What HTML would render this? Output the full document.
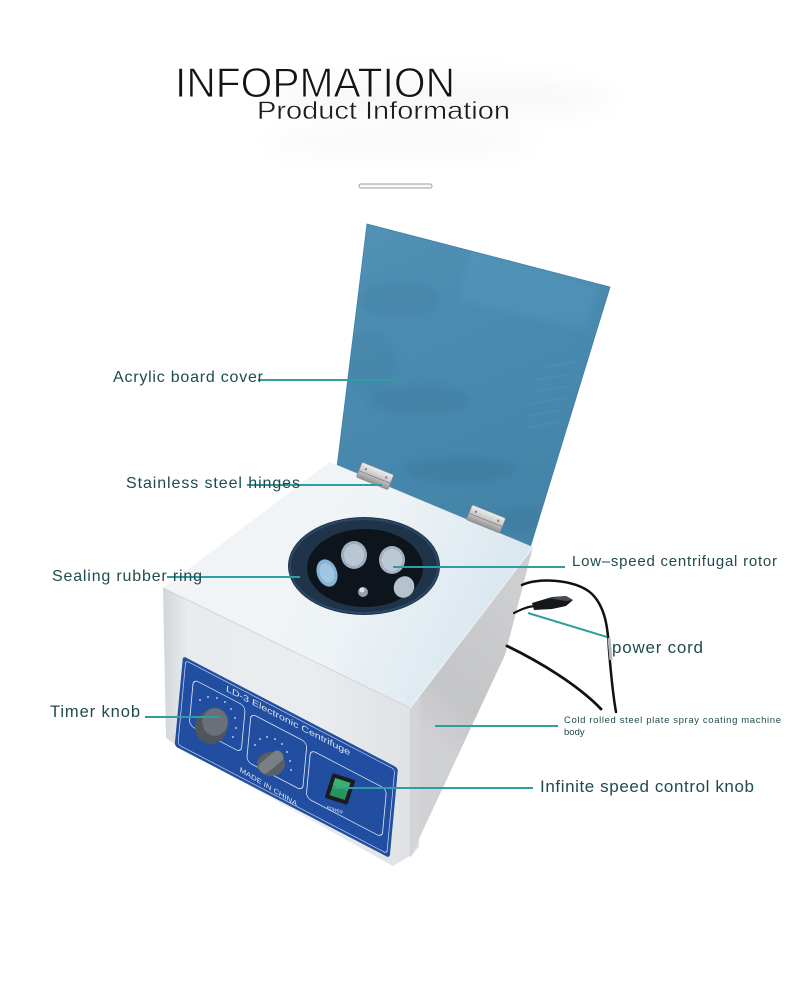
<!DOCTYPE html>
<html><head><meta charset="utf-8"><style>
html,body{margin:0;padding:0;background:#fff;}
body{width:790px;height:995px;overflow:hidden;position:relative;}
svg{position:absolute;left:0;top:0;}
</style></head><body>
<svg width="790" height="995" viewBox="0 0 790 995" xmlns="http://www.w3.org/2000/svg">
<defs>
 <filter id="b10" x="-50%" y="-50%" width="200%" height="200%"><feGaussianBlur stdDeviation="10"/></filter>
 <filter id="b4" x="-50%" y="-50%" width="200%" height="200%"><feGaussianBlur stdDeviation="4"/></filter>
 <filter id="b1"><feGaussianBlur stdDeviation="0.8"/></filter>
 <linearGradient id="lidg" x1="0" y1="0" x2="0.35" y2="1">
   <stop offset="0" stop-color="#5191b5"/>
   <stop offset="0.5" stop-color="#4a8ab0"/>
   <stop offset="1" stop-color="#4484a9"/>
 </linearGradient>
 <linearGradient id="topg" x1="0" y1="0" x2="1" y2="0.3">
   <stop offset="0" stop-color="#f3f5f7"/>
   <stop offset="0.6" stop-color="#eef3f6"/>
   <stop offset="1" stop-color="#dae7ef"/>
 </linearGradient>
 <linearGradient id="frontg" x1="163" y1="0" x2="410" y2="0" gradientUnits="userSpaceOnUse">
   <stop offset="0" stop-color="#d3d6d9"/>
   <stop offset="0.1" stop-color="#e9ecef"/>
   <stop offset="0.6" stop-color="#eaedf0"/>
   <stop offset="1" stop-color="#dfe2e5"/>
 </linearGradient>
 <linearGradient id="rightg" x1="410" y1="720" x2="520" y2="600" gradientUnits="userSpaceOnUse">
   <stop offset="0" stop-color="#d0d1d3"/>
   <stop offset="0.3" stop-color="#c4c5c7"/>
   <stop offset="1" stop-color="#cdced0"/>
 </linearGradient>
 <linearGradient id="hing" x1="0" y1="0" x2="0" y2="1">
   <stop offset="0" stop-color="#eeeeee"/>
   <stop offset="0.5" stop-color="#c9c9c9"/>
   <stop offset="1" stop-color="#8f8f8f"/>
 </linearGradient>
 <clipPath id="lidclip"><polygon points="367,224 610,287 530,548 337,467"/></clipPath>
</defs>

<!-- faint title shadow -->
<ellipse cx="440" cy="98" rx="170" ry="22" fill="#ececec" opacity="0.35" filter="url(#b10)"/>
<ellipse cx="400" cy="142" rx="130" ry="14" fill="#f0f0f0" opacity="0.4" filter="url(#b10)"/>

<!-- Title -->
<text x="175" y="97" font-family="Liberation Sans, sans-serif" font-size="42" fill="#141414" stroke="#ffffff" stroke-width="0.9" textLength="280" lengthAdjust="spacingAndGlyphs">INFOPMATION</text>
<text x="257" y="119" font-family="Liberation Sans, sans-serif" font-size="25" fill="#1c1c1c" stroke="#ffffff" stroke-width="0.4" textLength="253" lengthAdjust="spacingAndGlyphs">Product Information</text>
<rect x="359" y="184" width="73" height="4" rx="2" fill="#fafafa" stroke="#9c9c9c" stroke-width="1"/>

<!-- Lid -->
<polygon points="367,224 610,287 530,548 337,467" fill="url(#lidg)" stroke="#3f80a5" stroke-width="0.8"/>
<g clip-path="url(#lidclip)">
  <polygon points="470,250 600,285 585,330 460,300" fill="#5a9cc0" opacity="0.35" filter="url(#b4)"/>
  <ellipse cx="420" cy="400" rx="50" ry="14" fill="#3b7699" opacity="0.35" filter="url(#b4)"/>
  <ellipse cx="460" cy="470" rx="55" ry="12" fill="#3a7597" opacity="0.4" filter="url(#b4)"/>
  <ellipse cx="400" cy="300" rx="40" ry="18" fill="#3f7ca0" opacity="0.3" filter="url(#b4)"/>
  <ellipse cx="520" cy="520" rx="30" ry="10" fill="#3a7597" opacity="0.35" filter="url(#b4)"/>
  <ellipse cx="370" cy="360" rx="25" ry="30" fill="#3f7ca0" opacity="0.25" filter="url(#b4)"/>
  <g stroke="#6aa6c7" stroke-width="2" opacity="0.2" filter="url(#b1)">
    <line x1="540" y1="368" x2="575" y2="362"/>
    <line x1="535" y1="380" x2="572" y2="374"/>
    <line x1="532" y1="392" x2="570" y2="386"/>
    <line x1="530" y1="404" x2="566" y2="398"/>
    <line x1="528" y1="416" x2="562" y2="410"/>
    <line x1="526" y1="428" x2="558" y2="422"/>
  </g>
</g>

<!-- Right face -->
<polygon points="410,708 533,547 505,655 410,858" fill="url(#rightg)"/>
<polygon points="410,708 420,695 419,846 410,858" fill="#d4d5d7" opacity="0.8"/>

<!-- Front face -->
<polygon points="163,588 410,708 410,856 393,866 176,745 166,738" fill="url(#frontg)"/>

<!-- Top face -->
<polygon points="330,462 533,547 410,708 163,588" fill="url(#topg)"/>
<polyline points="163,588 410,708" fill="none" stroke="#d2d6da" stroke-width="1"/>
<polyline points="410,708 533,547" fill="none" stroke="#e9eef2" stroke-width="1.5"/>

<!-- Hinges -->
<g transform="translate(375,476) rotate(22)">
  <rect x="-17" y="-8" width="34" height="16" rx="1.5" fill="url(#hing)" stroke="#8a8a8a" stroke-width="0.6"/>
  <line x1="-17" y1="1" x2="17" y2="1" stroke="#7d7d7d" stroke-width="0.8"/>
  <circle cx="-11" cy="-3" r="1.2" fill="#888"/><circle cx="11" cy="-3" r="1.2" fill="#888"/>
</g>
<g transform="translate(486,519) rotate(22)">
  <rect x="-18" y="-8" width="36" height="16" rx="1.5" fill="url(#hing)" stroke="#8a8a8a" stroke-width="0.6"/>
  <line x1="-18" y1="1" x2="18" y2="1" stroke="#7d7d7d" stroke-width="0.8"/>
  <circle cx="-12" cy="-3" r="1.2" fill="#888"/><circle cx="12" cy="-3" r="1.2" fill="#888"/>
</g>

<!-- Rotor -->
<ellipse cx="364" cy="566" rx="76" ry="49" fill="#1f3349"/>
<ellipse cx="364" cy="566" rx="74" ry="47" fill="none" stroke="#2b4766" stroke-width="2"/>
<ellipse cx="365" cy="568" rx="58" ry="39" fill="#0d141b"/>
<ellipse cx="354" cy="555" rx="13" ry="14" fill="#9eb0bf"/>
<ellipse cx="354" cy="555" rx="10" ry="11" fill="#b9c7d2"/>
<ellipse cx="392" cy="560" rx="13" ry="14" fill="#a3b3c1"/>
<ellipse cx="392" cy="560" rx="10" ry="11" fill="#bccad5"/>
<ellipse cx="327" cy="573" rx="10" ry="14" transform="rotate(-20 327 573)" fill="#86b3d6"/>
<ellipse cx="327" cy="573" rx="7" ry="10" transform="rotate(-20 327 573)" fill="#a2c6e2"/>
<ellipse cx="404" cy="587" rx="10" ry="11" transform="rotate(30 404 587)" fill="#b6c3cd"/>
<circle cx="363" cy="592" r="5" fill="#9a9fa4"/>
<circle cx="362" cy="590" r="2.5" fill="#e0e3e6"/>

<!-- Blue panel -->
<g transform="matrix(1,0.521,-0.093,1,183,656)">
  <rect x="0" y="0" width="215" height="90" rx="3" fill="#214ea0"/>
  <rect x="3" y="3" width="209" height="84" rx="3" fill="none" stroke="#c9d6ee" stroke-width="0.7"/>
  <text x="44" y="12" font-family="Liberation Sans, sans-serif" font-size="8.5" fill="#dbe4f4" textLength="124" lengthAdjust="spacingAndGlyphs">LD-3 Electronic Centrifuge</text>
  <rect x="12" y="17" width="52" height="46" rx="5" fill="none" stroke="#dfe7f5" stroke-width="0.8"/>
  <rect x="70" y="21" width="56" height="48" rx="5" fill="none" stroke="#dfe7f5" stroke-width="0.8"/>
  <rect x="130" y="26" width="76" height="48" rx="5" fill="none" stroke="#dfe7f5" stroke-width="0.8"/>
  <text x="64" y="82" font-family="Liberation Sans, sans-serif" font-size="7" fill="#dbe4f4" textLength="58" lengthAdjust="spacingAndGlyphs" transform="rotate(5 64 82)">MADE IN CHINA</text>
</g>

<!-- Tick marks -->
<g fill="#e3eaf6">
  <circle cx="200" cy="700" r="0.9"/><circle cx="208" cy="697" r="0.9"/><circle cx="217" cy="698" r="0.9"/>
  <circle cx="225" cy="702" r="0.9"/><circle cx="231" cy="709" r="0.9"/><circle cx="235" cy="718" r="0.9"/>
  <circle cx="236" cy="728" r="0.9"/><circle cx="233" cy="737" r="0.9"/>
  <circle cx="255" cy="745" r="0.9"/><circle cx="260" cy="739" r="0.9"/><circle cx="267" cy="737" r="0.9"/>
  <circle cx="275" cy="739" r="0.9"/><circle cx="282" cy="744" r="0.9"/><circle cx="287" cy="752" r="0.9"/>
  <circle cx="290" cy="761" r="0.9"/><circle cx="291" cy="770" r="0.9"/>
</g>
<!-- Timer knob -->
<ellipse cx="211" cy="727" rx="16" ry="17" fill="#50555b"/>
<ellipse cx="215" cy="722" rx="13" ry="14" fill="#6a7077"/>
<ellipse cx="215" cy="722" rx="13" ry="14" fill="none" stroke="#575c63" stroke-width="1.2" stroke-dasharray="1.2 1.6"/>
<!-- Speed knob -->
<ellipse cx="271" cy="764" rx="14" ry="12" fill="#5a5f65"/>
<rect x="257" y="756" width="28" height="12" rx="5" transform="rotate(-40 271 762)" fill="#7a7f85"/>
<!-- Power switch -->
<g transform="rotate(18 340 789)">
  <rect x="328" y="776" width="24" height="26" rx="2" fill="#1a1d20"/>
  <rect x="332" y="780" width="16" height="18" fill="#27955a"/>
  <rect x="332" y="780" width="16" height="8" fill="#38b06e"/>
  <text x="333" y="812" font-family="Liberation Sans, sans-serif" font-size="4.5" fill="#dbe4f4">POWER</text>
</g>

<!-- Cords -->
<g fill="none" stroke="#111" stroke-linecap="round">
  <path d="M522 585 C 535 578, 575 578, 592 594 C 606 608, 608 630, 609 650 C 611 675, 613 695, 616 712" stroke-width="2.5"/>
  <path d="M507 646 C 540 662, 578 685, 601 709" stroke-width="2.8"/>
  <path d="M514 613 C 520 610, 526 607, 534 606" stroke-width="2.2"/>
</g>
<path d="M609 638 L 611 660" stroke="#b5b8bb" stroke-width="3"/>
<polygon points="532,603 552,597 566,596 573,600 566,606 552,609 534,610" fill="#15181b"/>
<polygon points="548,598 566,596 573,600 566,601" fill="#4a4e52"/>

<!-- Connector lines -->
<g stroke="#2e9ea3" stroke-width="2" fill="none">
  <line x1="258" y1="380" x2="397" y2="380"/>
  <line x1="247" y1="485" x2="382" y2="485"/>
  <line x1="167" y1="577" x2="300" y2="577"/>
  <line x1="393" y1="567" x2="565" y2="567"/>
  <line x1="528" y1="613" x2="607" y2="637"/>
  <line x1="435" y1="726" x2="558" y2="726"/>
  <line x1="333" y1="788" x2="533" y2="788"/>
  <line x1="145" y1="717" x2="219" y2="717"/>
</g>

<!-- Labels -->
<g font-family="Liberation Sans, sans-serif" fill="#1f4a4e">
  <text x="113" y="382" font-size="16" textLength="150" lengthAdjust="spacing">Acrylic board cover</text>
  <text x="126" y="488" font-size="16" textLength="174" lengthAdjust="spacing">Stainless steel hinges</text>
  <text x="52" y="581" font-size="16" textLength="150" lengthAdjust="spacing">Sealing rubber ring</text>
  <text x="572" y="566" font-size="15" textLength="205" lengthAdjust="spacing">Low–speed centrifugal rotor</text>
  <text x="612" y="653" font-size="17" textLength="91" lengthAdjust="spacing">power cord</text>
  <text x="564" y="723" font-size="9.5" textLength="217" lengthAdjust="spacing">Cold rolled steel plate spray coating machine</text>
  <text x="564" y="735" font-size="9.5">body</text>
  <text x="540" y="792" font-size="17" textLength="214" lengthAdjust="spacing">Infinite speed control knob</text>
  <text x="50" y="717" font-size="16.5" textLength="90" lengthAdjust="spacing">Timer knob</text>
</g>
</svg>
</body></html>
